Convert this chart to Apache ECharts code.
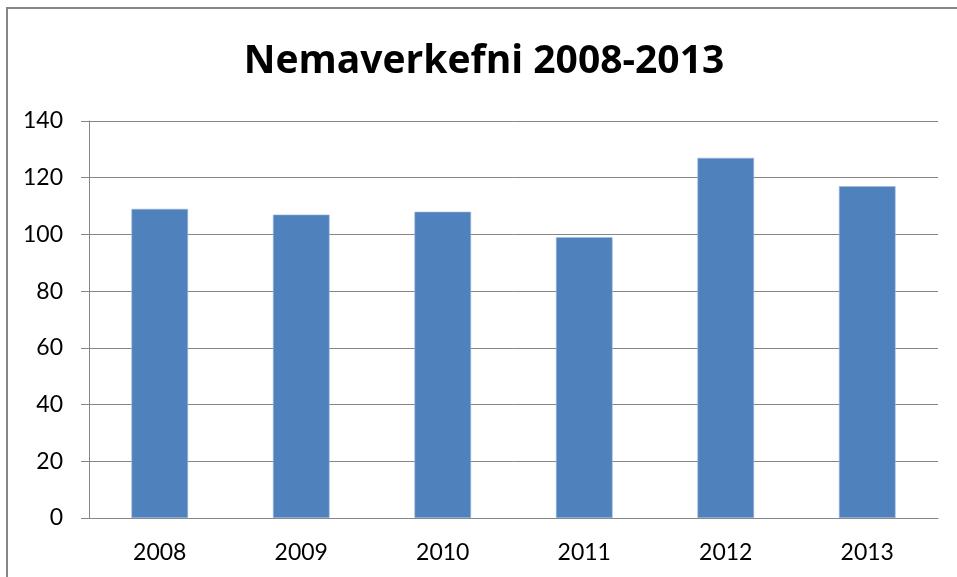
<!DOCTYPE html>
<html>
<head>
<meta charset="utf-8">
<script src="https://cdn.jsdelivr.net/npm/echarts@6/dist/echarts.min.js"></script>
<style>
  html, body { margin: 0; padding: 0; background: #fff; }
  #chart { width: 957px; height: 577px; }
</style>
</head>
<body>
<div id="chart"></div>
<script>
const years = ['2008', '2009', '2010', '2011', '2012', '2013']
const taskCounts = [109, 107, 108, 99, 127, 117]
const yTicks = { min: 0, max: 140, interval: 20 }

const gray = '#868686'
const font = 'Lato, "Noto Sans", sans-serif'

const myChart = echarts.init(document.getElementById('chart'))
myChart.setOption({
    animation: false,
    title: {
        text: 'Nemaverkefni 2008-2013',
        left: 479,
        top: 37,
        textAlign: 'center',
        textStyle: {
            fontFamily: '"Open Sans", Lato, sans-serif',
            fontSize: 39,
            fontWeight: 'bold',
            color: '#000'
        }
    },
    // chart frame, cut off on the right and bottom like the original
    graphic: [{
        type: 'rect',
        shape: { x: 7, y: 8, width: 1200, height: 1200 },
        style: { fill: 'none', stroke: gray, lineWidth: 2 }
    }],
    grid: { left: 89, right: 19, top: 121, bottom: 59 },
    xAxis: {
        type: 'category',
        data: years,
        axisLine: { lineStyle: { color: gray, width: 1 } },
        axisTick: { length: 8, lineStyle: { color: gray } },
        axisLabel: { color: '#000', fontFamily: font, fontSize: 23, margin: 23 }
    },
    yAxis: {
        type: 'value',
        min: yTicks.min,
        max: yTicks.max,
        interval: yTicks.interval,
        axisLine: { show: true, lineStyle: { color: gray, width: 1 } },
        axisTick: { show: true, length: 8, lineStyle: { color: gray } },
        axisLabel: { color: '#000', fontFamily: font, fontSize: 23, margin: 26 },
        splitLine: { lineStyle: { color: gray, width: 1 } }
    },
    series: [{
        type: 'bar',
        data: taskCounts,
        barWidth: '40%',
        itemStyle: { color: '#4F81BD', borderColor: '#9DB9DE', borderWidth: 0.6 }
    }]
})
</script>
</body>
</html>
